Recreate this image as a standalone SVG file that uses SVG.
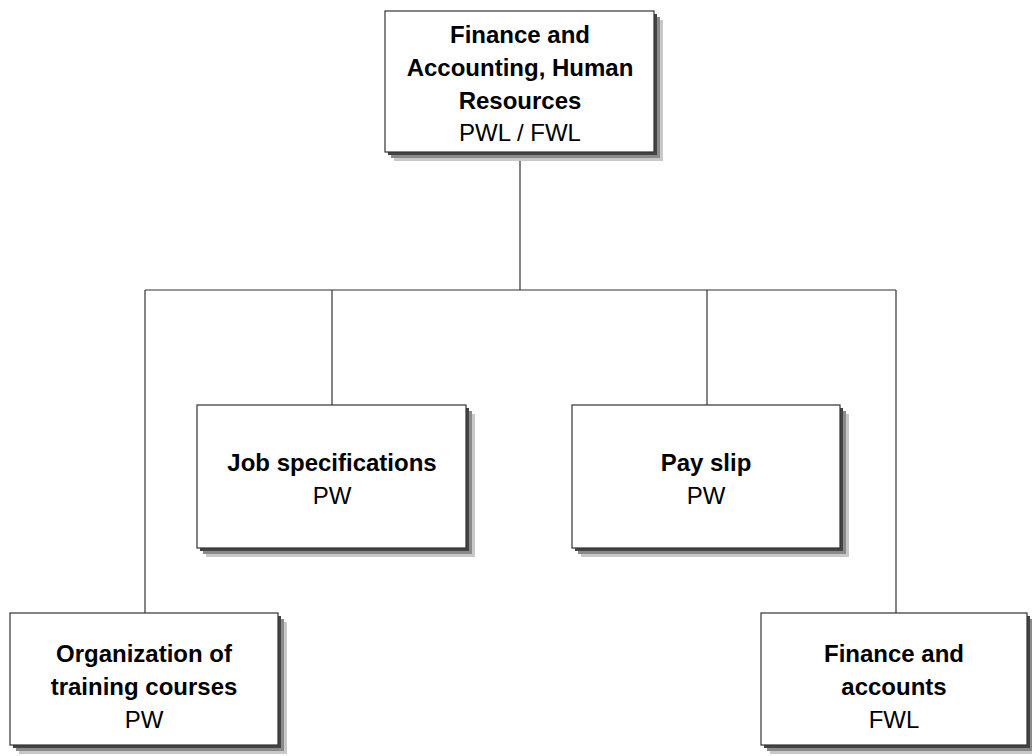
<svg xmlns="http://www.w3.org/2000/svg" width="1032" height="756" viewBox="0 0 1032 756">
  <style>
    .box { fill: #ffffff; stroke: #333333; stroke-width: 1.2; }
    .sh1 { fill: #c8c8c8; }
    .sh2 { fill: #8a8a8a; }
    .sh3 { fill: #444444; }
    .wire { fill: none; stroke: #333333; stroke-width: 1.2; }
    .t { font-family: "Liberation Sans", Arial, sans-serif; font-size: 24px; fill: #000000; text-anchor: middle; }
    .b { font-weight: bold; }
  </style>

  <!-- connectors -->
  <g id="connectors">
    <line class="wire" x1="520" y1="152" x2="520" y2="290"/>
    <line class="wire" x1="145" y1="290" x2="896" y2="290"/>
    <line class="wire" x1="145" y1="290" x2="145" y2="613"/>
    <line class="wire" x1="332" y1="290" x2="332" y2="405"/>
    <line class="wire" x1="707" y1="290" x2="707" y2="405"/>
    <line class="wire" x1="896" y1="290" x2="896" y2="613"/>
  </g>

  <!-- root node -->
  <g id="node-finance-hr">
    <rect class="sh1" x="394" y="20" width="269" height="141"/>
    <rect class="sh2" x="391" y="17" width="269" height="141"/>
    <rect class="sh3" x="388" y="14" width="269" height="141"/>
    <rect class="box" x="385" y="11" width="269" height="141"/>
    <text class="t b" x="520" y="43">Finance and</text>
    <text class="t b" x="520" y="76">Accounting, Human</text>
    <text class="t b" x="520" y="109">Resources</text>
    <text class="t" x="520" y="141">PWL / FWL</text>
  </g>

  <g id="node-job-specifications">
    <rect class="sh1" x="206" y="414" width="269" height="143"/>
    <rect class="sh2" x="203" y="411" width="269" height="143"/>
    <rect class="sh3" x="200" y="408" width="269" height="143"/>
    <rect class="box" x="197" y="405" width="269" height="143"/>
    <text class="t b" x="332" y="471">Job specifications</text>
    <text class="t" x="332" y="504">PW</text>
  </g>

  <g id="node-pay-slip">
    <rect class="sh1" x="581" y="414" width="268" height="143"/>
    <rect class="sh2" x="578" y="411" width="268" height="143"/>
    <rect class="sh3" x="575" y="408" width="268" height="143"/>
    <rect class="box" x="572" y="405" width="268" height="143"/>
    <text class="t b" x="706" y="471">Pay slip</text>
    <text class="t" x="706" y="504">PW</text>
  </g>

  <g id="node-training">
    <rect class="sh1" x="19" y="622" width="268" height="132"/>
    <rect class="sh2" x="16" y="619" width="268" height="132"/>
    <rect class="sh3" x="13" y="616" width="268" height="132"/>
    <rect class="box" x="10" y="613" width="268" height="132"/>
    <text class="t b" x="144" y="662">Organization of</text>
    <text class="t b" x="144" y="695">training courses</text>
    <text class="t" x="144" y="728">PW</text>
  </g>

  <g id="node-finance-accounts">
    <rect class="sh1" x="770" y="622" width="266" height="132"/>
    <rect class="sh2" x="767" y="619" width="266" height="132"/>
    <rect class="sh3" x="764" y="616" width="266" height="132"/>
    <rect class="box" x="761" y="613" width="266" height="132"/>
    <text class="t b" x="894" y="662">Finance and</text>
    <text class="t b" x="894" y="695">accounts</text>
    <text class="t" x="894" y="728">FWL</text>
  </g>
</svg>
